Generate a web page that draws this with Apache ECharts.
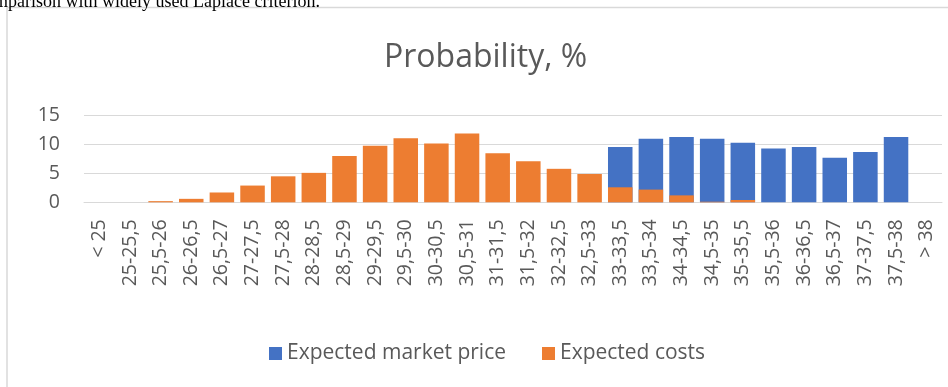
<!DOCTYPE html>
<html>
<head>
<meta charset="utf-8">
<style>
html,body{margin:0;padding:0;background:#fff;}
#chart{width:948px;height:387px;}
</style>
<script src="https://cdn.jsdelivr.net/npm/echarts@6/dist/echarts.min.js"></script>
</head>
<body>
<div id="chart"></div>
<script>
const categories = ['< 25','25-25,5','25,5-26','26-26,5','26,5-27','27-27,5','27,5-28','28-28,5','28,5-29','29-29,5','29,5-30','30-30,5','30,5-31','31-31,5','31,5-32','32-32,5','32,5-33','33-33,5','33,5-34','34-34,5','34,5-35','35-35,5','35,5-36','36-36,5','36,5-37','37-37,5','37,5-38','> 38'];
const marketPrice = [0,0,0,0,0,0,0,0,0,0,0,0,0,0,0,0,0,9.6,11.0,11.3,11.0,10.3,9.3,9.6,7.7,8.7,11.3,0];
const costs = [0,0,0.2,0.6,1.7,2.9,4.5,5.1,8.0,9.8,11.1,10.2,11.9,8.5,7.1,5.8,4.9,2.6,2.2,1.2,0.1,0.4,0,0,0,0,0,0];
const yTicks = [0,5,10,15];

const FONT = '"Open Sans", "Noto Sans", sans-serif';
const chart = echarts.init(document.getElementById('chart'), null, {renderer:'canvas'});
chart.setOption({
  animation:false,
  backgroundColor:'#ffffff',
  textStyle:{fontFamily:FONT},
  title:{
    text:'Probability, %',
    left:379, top:37,
    textStyle:{fontFamily:FONT,fontSize:32,fontWeight:'normal',color:'#595959'}
  },
  legend:{
    bottom:18, left:264,
    itemWidth:13, itemHeight:13, itemGap:36, itemTextGap:7,
    icon:'rect',
    textStyle:{fontFamily:FONT,fontSize:21,color:'#595959'},
    data:['Expected market price','Expected costs']
  },
  grid:{left:84,right:6,top:115.7,bottom:184.7,containLabel:false},
  xAxis:{
    type:'category',
    data:categories,
    axisLine:{lineStyle:{color:'#d9d9d9',width:1}},
    axisTick:{show:false},
    axisLabel:{rotate:90,interval:0,fontFamily:FONT,fontSize:19.5,color:'#595959',margin:17}
  },
  yAxis:{
    type:'value',
    min:yTicks[0], max:yTicks[yTicks.length-1], interval:5,
    axisLine:{show:false},
    axisTick:{show:false},
    splitLine:{lineStyle:{color:'#d9d9d9',width:1}},
    axisLabel:{fontFamily:FONT,fontSize:19.5,color:'#595959',margin:24}
  },
  series:[
    {name:'Expected market price',type:'bar',data:marketPrice,itemStyle:{color:'#4472C4'},barGap:'-100%',barCategoryGap:'20%'},
    {name:'Expected costs',type:'bar',data:costs,itemStyle:{color:'#ED7D31'},barGap:'-100%',barCategoryGap:'20%'}
  ],
  graphic:[
    {type:'rect',silent:true,z:-1,shape:{x:7,y:7.5,width:960,height:400},style:{fill:null,stroke:'#d9d9d9',lineWidth:1.5}},
    {type:'text',silent:true,left:-6,top:-7,style:{text:'mparison with widely used Laplace criterion.',font:'18px "Liberation Serif", serif',fill:'#000'}}
  ]
});
</script>
</body>
</html>
